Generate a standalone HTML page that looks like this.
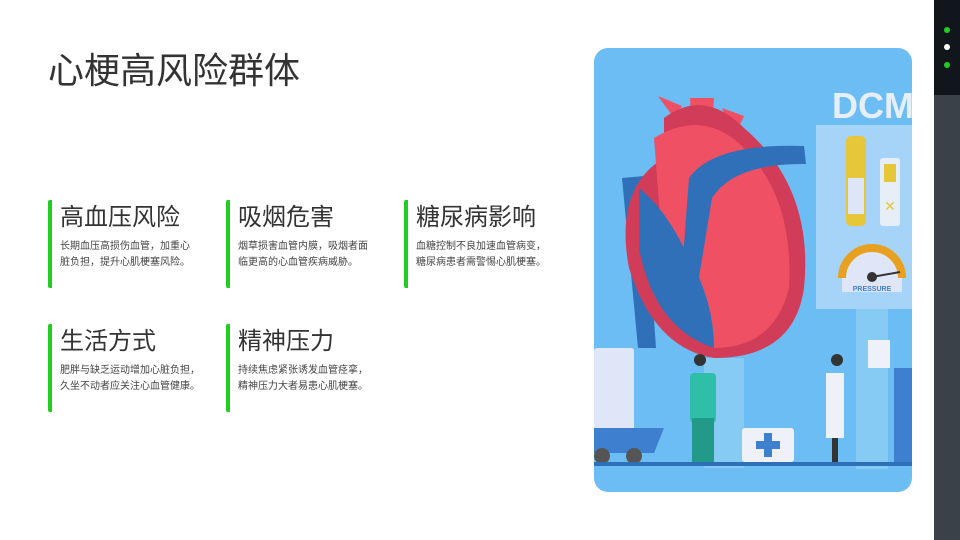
<!DOCTYPE html>
<html><head><meta charset="utf-8"><style>
*{margin:0;padding:0;box-sizing:border-box}
body{width:960px;height:540px;background:#fff;position:relative;overflow:hidden;font-family:"Liberation Sans","Noto Sans CJK SC",sans-serif;color:#333}
h1{position:absolute;left:48px;top:42px;font-size:36px;font-weight:400;color:#333;white-space:nowrap}
.card{position:absolute;width:170px;height:88px;border-left:4px solid #22cc22;border-radius:2px;padding-left:8px}
.card h2{font-size:24px;font-weight:400;color:#333;line-height:28px;margin-top:4px;white-space:nowrap}
.card p{font-size:10px;line-height:16px;color:#444;margin-top:7px;white-space:nowrap}
.side{position:absolute;left:934px;top:0;width:26px;height:540px;background:#3b4149}
.side .top{height:95px;background:#11151c;position:relative}
.dot{position:absolute;left:10px;width:6px;height:6px;border-radius:50%}
</style></head><body>
<h1>心梗高风险群体</h1>
<div class="card" style="left:48px;top:200px"><h2>高血压风险</h2><p>长期血压高损伤血管，加重心<br>脏负担，提升心肌梗塞风险。</p></div>
<div class="card" style="left:226px;top:200px"><h2>吸烟危害</h2><p>烟草损害血管内膜，吸烟者面<br>临更高的心血管疾病威胁。</p></div>
<div class="card" style="left:404px;top:200px"><h2>糖尿病影响</h2><p>血糖控制不良加速血管病变，<br>糖尿病患者需警惕心肌梗塞。</p></div>
<div class="card" style="left:48px;top:324px"><h2>生活方式</h2><p>肥胖与缺乏运动增加心脏负担，<br>久坐不动者应关注心血管健康。</p></div>
<div class="card" style="left:226px;top:324px"><h2>精神压力</h2><p>持续焦虑紧张诱发血管痉挛，<br>精神压力大者易患心肌梗塞。</p></div>

<svg style="position:absolute;left:594px;top:48px" width="318" height="444" viewBox="0 0 318 444">
<defs><clipPath id="c"><rect width="318" height="444" rx="14"/></clipPath></defs>
<g clip-path="url(#c)">
<rect width="318" height="444" fill="#6cbdf3"/>
<rect x="222" y="77" width="100" height="184" fill="#a6d4f8"/>
<rect x="262" y="261" width="32" height="160" fill="#86cbf3"/>
<rect x="110" y="310" width="40" height="110" fill="#86cbf3"/>
<text x="238" y="70" font-family="Liberation Sans" font-weight="700" font-size="36" fill="#e6eef8">DCM</text>
<rect x="252" y="88" width="20" height="90" rx="5" fill="#e6c73a"/><rect x="254" y="130" width="16" height="36" fill="#dde6f8"/>
<rect x="286" y="110" width="20" height="68" rx="3" fill="#e6eef8"/><rect x="290" y="116" width="12" height="18" fill="#e6c73a"/>
<text x="296" y="163" font-size="14" fill="#e6c73a" text-anchor="middle">✕</text>
<path d="M248 230 A30 30 0 0 1 308 230 L308 244 L248 244Z" fill="#dfe6f8"/>
<path d="M248 230 A30 30 0 0 1 308 230" fill="none" stroke="#e8a020" stroke-width="8"/>
<circle cx="278" cy="229" r="5" fill="#333"/><line x1="278" y1="229" x2="306" y2="224" stroke="#333" stroke-width="2"/>
<text x="278" y="243" font-size="7" font-weight="700" fill="#3f7fd0" text-anchor="middle" font-family="Liberation Sans">PRESSURE</text>
<path d="M28 130 L50 128 L62 300 L44 300Z" fill="#3070b8"/>
<path d="M64 48 L88 58 L80 70 Z M96 50 L120 50 L118 80 L98 80Z M128 60 L150 68 L140 90Z" fill="#f05064"/>
<path d="M70 70 Q110 40 150 80 Q220 140 210 240 Q200 310 120 310 Q60 300 35 220 Q20 140 70 110Z" fill="#d13c58"/>
<path d="M60 90 Q110 60 150 100 Q200 150 195 240 Q180 300 120 300 Q80 280 70 220Z" fill="#f05064"/>
<path d="M45 140 Q70 160 90 200 Q120 250 120 300 Q60 280 45 200Z" fill="#3070b8"/>
<path d="M95 130 Q120 95 210 98 L212 116 Q140 115 118 150 L100 260 L86 250Z" fill="#3070b8"/>
<rect x="0" y="300" width="40" height="90" rx="3" fill="#dfe6f8"/>
<path d="M0 380 L70 380 L60 405 L0 405Z" fill="#3f7fd0"/>
<circle cx="8" cy="408" r="8" fill="#555"/><circle cx="40" cy="408" r="8" fill="#555"/>
<rect x="96" y="325" width="26" height="50" rx="4" fill="#2fbfa8"/><rect x="98" y="370" width="22" height="45" fill="#229a8a"/><circle cx="106" cy="312" r="6" fill="#333"/>
<rect x="148" y="380" width="52" height="34" rx="3" fill="#eef2f8"/><rect x="170" y="385" width="8" height="24" fill="#3f7fd0"/><rect x="162" y="393" width="24" height="8" fill="#3f7fd0"/>
<rect x="232" y="325" width="18" height="65" fill="#eef2f8"/><rect x="238" y="390" width="6" height="25" fill="#333"/><circle cx="243" cy="312" r="6" fill="#333"/>
<rect x="300" y="320" width="18" height="95" fill="#3f7fd0"/><rect x="274" y="292" width="22" height="28" fill="#eef2f8"/>
<rect x="0" y="414" width="318" height="4" fill="#2f6fb8"/>
</g></svg>

<div class="side"><div class="top">
<div class="dot" style="top:27px;background:#22cc22"></div>
<div class="dot" style="top:44px;background:#fff"></div>
<div class="dot" style="top:62px;background:#22cc22"></div>
</div></div>
</body></html>
